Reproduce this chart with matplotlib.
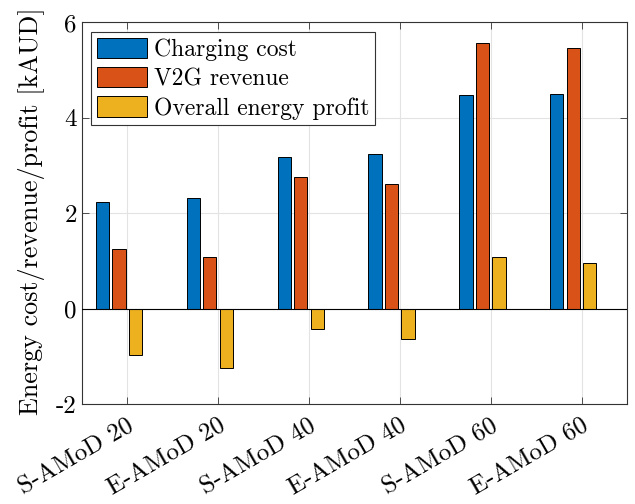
import numpy as np
import matplotlib
matplotlib.use('Agg')
import matplotlib.pyplot as plt

plt.rcParams['font.family'] = 'cmr10'
plt.rcParams['mathtext.fontset'] = 'cm'
plt.rcParams['axes.unicode_minus'] = False

# energy figures per scenario, in kAUD
scenarios = ['S-AMoD 20', 'E-AMoD 20', 'S-AMoD 40', 'E-AMoD 40', 'S-AMoD 60', 'E-AMoD 60']
charging_cost = [2.23, 2.33, 3.17, 3.24, 4.48, 4.51]
v2g_revenue = [1.25, 1.09, 2.75, 2.61, 5.56, 5.46]
energy_profit = [-0.98, -1.24, -0.42, -0.63, 1.08, 0.95]
padding = [0, 0, 0, 0, 0, 0]

series = [charging_cost, v2g_revenue, energy_profit, padding]
names = ['Charging cost', 'V2G revenue', 'Overall energy profit', None]
colors = ['#0072BD', '#D95319', '#EDB120', '#7E2F8E']

fig = plt.figure(figsize=(6.35, 5.04), dpi=100)
ax = fig.add_axes([0.1287, 0.1984, 0.8587, 0.757])

x = np.arange(1, len(scenarios) + 1)
group = 4 / 5.5
w = group / 4 * 0.8
for i, (vals, name, c) in enumerate(zip(series, names, colors)):
    off = (i - 1.5) * group / 4
    ax.bar(x + off, vals, w, color=c, edgecolor='k', linewidth=0.7,
           label=name if name else '_nolegend_', zorder=3)

ax.axhline(0, color='k', linewidth=0.8, zorder=4)

ax.set_xlim(0.5, 6.5)
ax.set_ylim(-2, 6)
ax.set_yticks([-2, 0, 2, 4, 6])
ax.set_yticklabels(['-2', '0', '2', '4', '6'])
ax.set_xticks(x)
ax.set_xticklabels(scenarios, rotation=30, ha='right', rotation_mode='anchor',
                   fontsize=18)
ax.tick_params(axis='both', direction='in', top=True, right=True,
               length=5, width=0.6, color='#333333')
ax.tick_params(axis='y', labelsize=18)
ax.tick_params(axis='x', pad=8)

ax.grid(True, color='#e3e3e3', linewidth=0.8, zorder=0)
for s in ax.spines.values():
    s.set_color('#333333')
    s.set_linewidth(0.8)

ax.set_ylabel('Energy cost/revenue/profit [kAUD]', fontsize=18.8)
ax.yaxis.set_label_coords(-0.067, 0.505)

leg = ax.legend(loc='upper left', fontsize=17, handlelength=2.1, handleheight=0.95,
                handletextpad=0.3, labelspacing=0.25, borderpad=0.25,
                borderaxespad=0.4, fancybox=False, framealpha=1,
                edgecolor='#333333')
leg.get_frame().set_linewidth(0.8)

fig.savefig('out.png', dpi=100)
